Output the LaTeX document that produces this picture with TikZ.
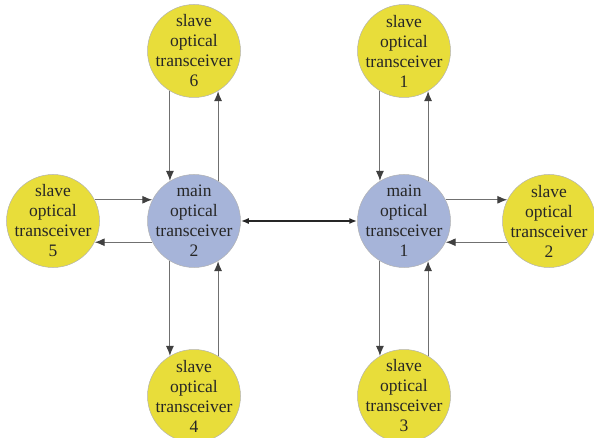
\documentclass[tikz,border=0pt]{standalone}
\usepackage{fontspec}
\setmainfont{Liberation Serif}
\usetikzlibrary{arrows.meta}
\definecolor{slaveyellow}{RGB}{232,221,58}
\definecolor{mainblue}{RGB}{166,180,217}
\definecolor{linegray}{RGB}{112,112,112}
\definecolor{tipgray}{RGB}{64,64,64}

\begin{document}
\begin{tikzpicture}[x=1pt, y=-1pt, every node/.style={font=\fontsize{17.5}{20}\selectfont, align=center, text=black!85}]
  \useasboundingbox (0,0) rectangle (594,438);
  \clip (0,0) rectangle (594,438);
  \tikzset{
    trx/.style={draw=black!30, line width=0.5pt, circle, minimum size=93pt, inner sep=-12pt},
    link/.style={draw=linegray, line width=1.1pt, -{Latex[length=10pt,width=8pt,color=tipgray]}},
  }
  % Transceptores principales
  \foreach \i/\x in {1/404, 2/194} {
    \node[trx, fill=mainblue] (m\i) at (\x, 221) {main\\optical\\transceiver\\\i};
  }
  % Transceptores esclavos
  \foreach \i/\x/\y in {1/404/51, 2/549/221, 3/404/396, 4/194/396, 5/53/221, 6/194/51} {
    \node[trx, fill=slaveyellow] (s\i) at (\x, \y) {slave\\optical\\transceiver\\\i};
  }
  % Enlaces verticales
  \draw[link] (s6.239) -- (m2.121);
  \draw[link] (m2.59) -- (s6.301);
  \draw[link] (m2.239) -- (s4.121);
  \draw[link] (s4.59) -- (m2.301);
  \draw[link] (s1.239) -- (m1.121);
  \draw[link] (m1.59) -- (s1.301);
  \draw[link] (m1.239) -- (s3.121);
  \draw[link] (s3.59) -- (m1.301);
  % Enlaces horizontales
  \draw[link] (s5.27) -- (m2.153);
  \draw[link] (m2.207) -- (s5.333);
  \draw[link] (m1.27) -- (s2.153);
  \draw[link] (s2.207) -- (m1.333);
  % Enlace entre principales
  \draw[line width=1.6pt, black!85, {Latex[length=8pt,width=6pt]}-{Latex[length=8pt,width=6pt]}] (m2) -- (m1);
\end{tikzpicture}
\end{document}
